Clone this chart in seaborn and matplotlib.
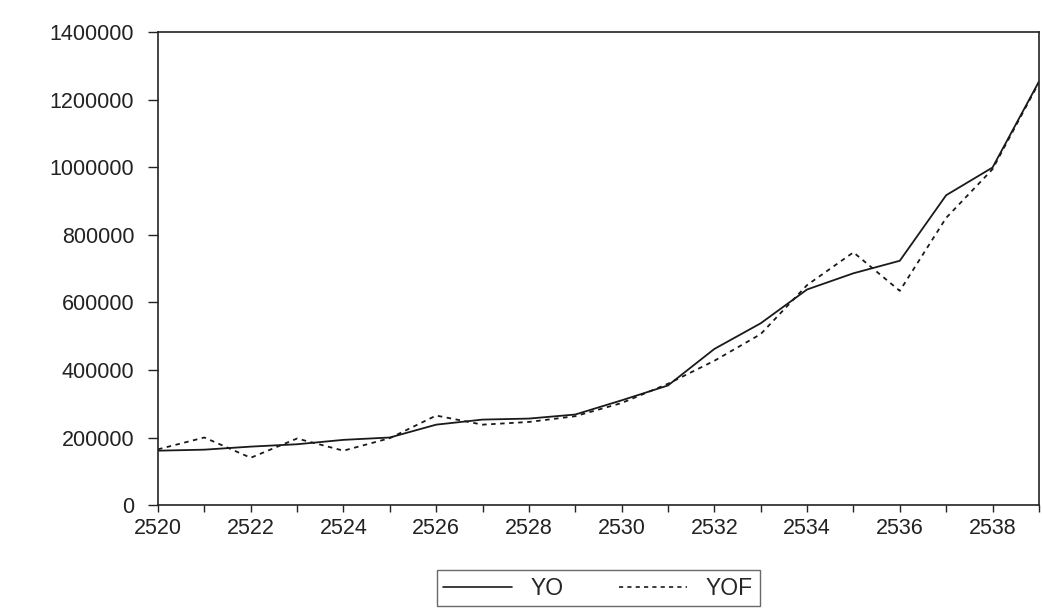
import matplotlib
matplotlib.use("Agg")
import matplotlib.pyplot as plt
import seaborn as sns
import pandas as pd
import numpy as np

years = list(range(2520, 2540))
yo = [161000, 164000, 173000, 180000, 193000, 200000, 238000, 253000, 256000, 268000,
      310000, 354000, 462000, 538000, 638000, 686000, 723000, 917000, 999000, 1253000]
yof = [165000, 200000, 140000, 197000, 161000, 198000, 265000, 238000, 246000, 263000,
       302000, 359000, 427000, 506000, 651000, 748000, 634000, 850000, 994000, 1250000]
series_names = ["YO", "YOF"]
x_ticks = list(range(2520, 2540, 2))
y_ticks = [0, 200000, 400000, 600000, 800000, 1000000, 1200000, 1400000]

df = pd.DataFrame({
    "year": years * 2,
    "value": yo + yof,
    "series": [series_names[0]] * len(years) + [series_names[1]] * len(years),
})

sns.set_style("ticks")
plt.rcParams["font.family"] = ["Liberation Sans", "DejaVu Sans"]

fig = plt.figure(figsize=(10.42, 6.10), dpi=100)
ax = fig.add_axes([0.1516, 0.172, 0.8454, 0.7755])

sns.lineplot(data=df, x="year", y="value", style="series",
             dashes={"YO": "", "YOF": (2.5, 2.5)}, color="#1a1a1a",
             linewidth=1.3, ax=ax, legend=False)

ax.set_xlim(2520, 2539)
ax.set_ylim(0, 1400000)
ax.set_xticks(range(2520, 2540), minor=False)
ax.set_xticklabels([str(y) if y in x_ticks else "" for y in range(2520, 2540)])
ax.set_yticks(y_ticks)
ax.set_yticklabels([str(v) for v in y_ticks])
ax.set_xlabel("")
ax.set_ylabel("")
for s in ax.spines.values():
    s.set_visible(True)
    s.set_color("#222222")
    s.set_linewidth(1.2)
ax.tick_params(axis="both", direction="out", width=1, colors="#222222",
               labelsize=15.5, labelcolor="#222222")
ax.tick_params(axis="y", length=7, pad=10)
ax.tick_params(axis="x", length=5, pad=4)

from matplotlib.lines import Line2D
handles = [Line2D([], [], color="#1a1a1a", lw=1.2, ls="-"),
           Line2D([], [], color="#1a1a1a", lw=1.2, ls=(0, (2.5, 2.5)))]
leg = fig.legend(handles, series_names, loc="center", bbox_to_anchor=(0.574, 0.036),
                 ncol=2, frameon=True, fancybox=False, edgecolor="#444444",
                 fontsize=16.5, handlelength=3.0, columnspacing=2.4, borderpad=0.3,
                 handletextpad=0.8)
leg.get_frame().set_linewidth(1.0)

fig.savefig("out.png", dpi=100)
